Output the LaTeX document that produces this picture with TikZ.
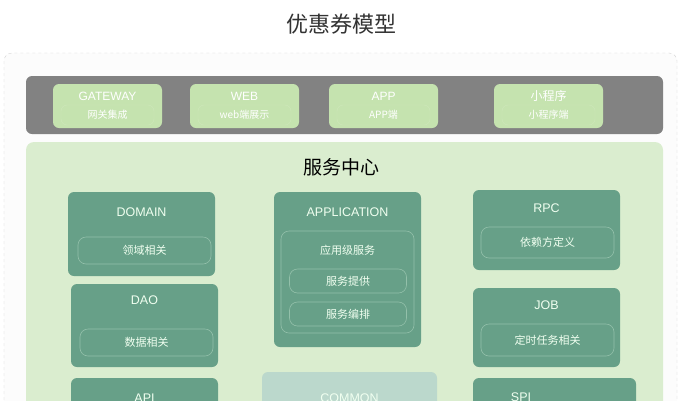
\documentclass[tikz,border=0pt]{standalone}
\usepackage{fontspec}
\setmainfont{Noto Sans CJK SC}
\newfontfamily\latinfont{Liberation Sans}
\definecolor{framefill}{HTML}{FCFCFC}
\definecolor{framedraw}{HTML}{D4D4D4}
\definecolor{bandgray}{HTML}{828282}
\definecolor{clientgreen}{HTML}{C5E3AF}
\definecolor{centergreen}{HTML}{DAEDCF}
\definecolor{modgreen}{HTML}{67A088}
\definecolor{modline}{HTML}{93C0AA}
\definecolor{commongreen}{HTML}{BBD8CC}
\tikzset{
  box/.style={rectangle, rounded corners=6pt, inner sep=0pt},
  client/.style={box, fill=clientgreen, minimum width=109pt, minimum height=44pt},
  clientsub/.style={box, draw=clientgreen!85!white, minimum width=93pt, minimum height=20pt},
  module/.style={box, fill=modgreen, minimum width=147pt},
  part/.style={box, rounded corners=8pt, draw=modline, line width=0.6pt},
  ctitle/.style={text=white, font=\latinfont\fontsize{12}{14}\selectfont},
  csub/.style={text=white, font=\fontsize{10}{12}\selectfont},
  mtitle/.style={text=white!94!green, font=\latinfont\fontsize{12.5}{15}\selectfont},
  msub/.style={text=white!94!green, font=\fontsize{11}{13}\selectfont}
}
\begin{document}
\begin{tikzpicture}[x=1pt,y=-1pt]
\clip (0,0) rectangle (682,400);
\fill[white] (0,0) rectangle (682,400);
\node[text=black!80, font=\fontsize{22}{26}\selectfont] (title) at (341,24) {优惠券模型};

\draw[framedraw, dashed, fill=framefill, rounded corners=8pt] (4,53) rectangle (677,440);
\fill[bandgray, rounded corners=6pt] (26,76) rectangle (663,134);

\node[client] (gateway) at (107.5,106) {};
\node[client] (web) at (244.5,106) {};
\node[client] (app) at (383.5,106) {};
\node[client] (mini) at (548.5,106) {};
\foreach \n/\t/\s in {gateway/GATEWAY/网关集成, web/WEB/web端展示, app/APP/APP端} {
  \node[clientsub] (\n sub) at ([yshift=-9pt]\n.center) {};
  \node[ctitle] (\n t) at ([yshift=10pt]\n.center) {\t};
  \node[csub] (\n s) at (\n sub) {\s};
}
\node[clientsub] (minisub) at ([yshift=-9pt]mini.center) {};
\node[text=white, font=\fontsize{12}{14}\selectfont] (minit) at ([yshift=10pt]mini.center) {小程序};
\node[csub] (minis) at (minisub) {小程序端};

\fill[centergreen, rounded corners=8pt] (26,142) rectangle (663,440);
\node[text=black, font=\fontsize{19}{22}\selectfont] (centert) at (341,167) {服务中心};

\node[module, minimum height=84pt] (domain) at (141.5,234) {};
\node[mtitle] (domaint) at (141.5,212) {DOMAIN};
\node[part, minimum width=133pt, minimum height=27pt] (domainp) at (144.5,250.5) {};
\node[msub] at (domainp) {领域相关};

\node[module, minimum height=83pt] (dao) at (144.5,325.5) {};
\node[mtitle] (daot) at (144.5,300) {DAO};
\node[part, minimum width=133pt, minimum height=27pt] (daop) at (146.5,342.5) {};
\node[msub] at (daop) {数据相关};

\node[module, minimum height=62pt] (api) at (144.5,409) {};
\node[mtitle] (apit) at (144.5,398) {API};

\node[module, minimum height=155pt] (application) at (347.5,269.5) {};
\node[mtitle] (applicationt) at (347.5,212) {APPLICATION};
\node[part, minimum width=133pt, minimum height=102pt] (applicationp) at (347.5,282) {};
\node[msub] (appsvc) at (347.5,250) {应用级服务};
\node[part, minimum width=117pt, minimum height=24pt] (provide) at (348,281) {};
\node[msub] at (provide) {服务提供};
\node[part, minimum width=117pt, minimum height=24pt] (arrange) at (348,314) {};
\node[msub] at (arrange) {服务编排};

\node[box, fill=commongreen, minimum width=175pt, minimum height=68pt] (common) at (349.5,406) {};
\node[mtitle] (commont) at (349.5,398) {COMMON};

\node[module, minimum height=80pt] (rpc) at (546.5,230) {};
\node[mtitle] (rpct) at (546.5,208) {RPC};
\node[part, minimum width=133pt, minimum height=31pt] (rpcp) at (547.5,242.5) {};
\node[msub] at (rpcp) {依赖方定义};

\node[module, minimum height=79pt] (job) at (546.5,327.5) {};
\node[mtitle] (jobt) at (546.5,305) {JOB};
\node[part, minimum width=133pt, minimum height=32pt] (jobp) at (547.5,340) {};
\node[msub] at (jobp) {定时任务相关};

\node[module, minimum width=163pt, minimum height=62pt] (spi) at (554.5,409) {};
\node[mtitle] (spit) at (521,397) {SPI};
\end{tikzpicture}
\end{document}
